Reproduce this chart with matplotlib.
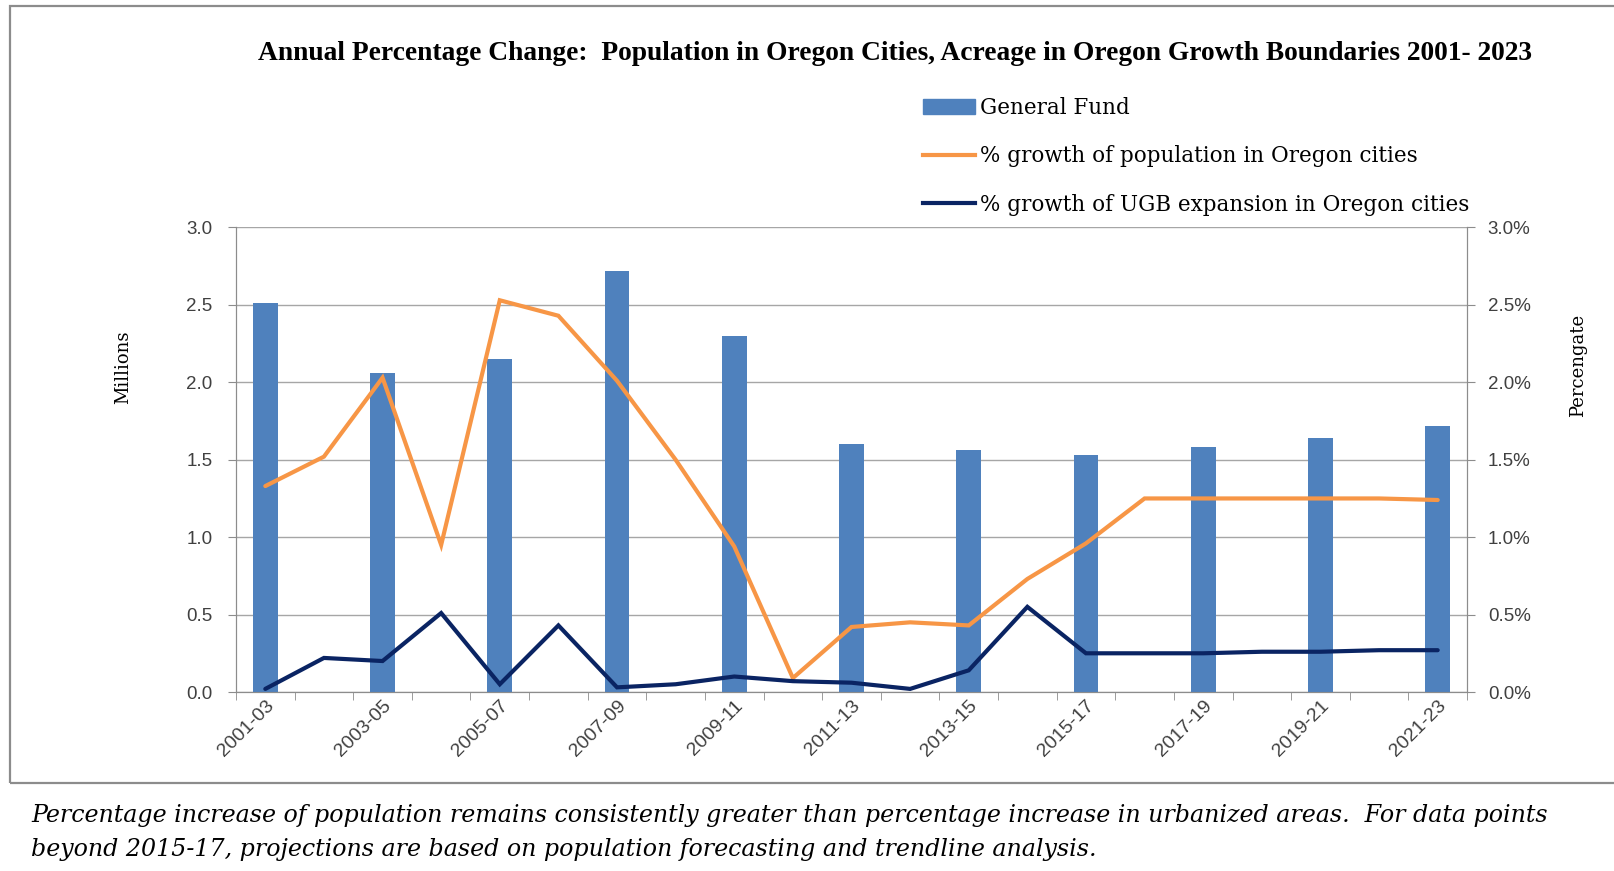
import numpy as np
import matplotlib.pyplot as plt
from matplotlib.patches import Rectangle, Patch
from matplotlib.lines import Line2D

# biennium labels (shown under every other category)
bienniums = ['2001-03', '2003-05', '2005-07', '2007-09', '2009-11', '2011-13',
             '2013-15', '2015-17', '2017-19', '2019-21', '2021-23']

# general fund, millions (one bar per biennium)
general_fund = [2.51, 2.06, 2.15, 2.72, 2.30, 1.60, 1.56, 1.53, 1.58, 1.64, 1.72]

# annual % growth, 21 points
pop_growth = [1.33, 1.52, 2.03, 0.95, 2.53, 2.43, 2.01, 1.50, 0.94, 0.09, 0.42,
              0.45, 0.43, 0.73, 0.96, 1.25, 1.25, 1.25, 1.25, 1.25, 1.24]
ugb_growth = [0.02, 0.22, 0.20, 0.51, 0.05, 0.43, 0.03, 0.05, 0.10, 0.07, 0.06,
              0.02, 0.14, 0.55, 0.25, 0.25, 0.25, 0.26, 0.26, 0.27, 0.27]

W, H = 1614, 871
fig = plt.figure(figsize=(W / 100, H / 100), dpi=100)

# outer frame of the chart object
fig.patches.append(Rectangle((10 / W, 1 - 783 / H), 1.2, 777 / H, transform=fig.transFigure,
                             fill=False, edgecolor='#8c8c8c', lw=1.6))

left, right, top, bottom = 236, 1467, 227.5, 692
ax = fig.add_axes([left / W, 1 - bottom / H, (right - left) / W, (bottom - top) / H])
ax2 = ax.twinx()
ax.set_zorder(1)
ax2.set_zorder(2)
ax2.patch.set_visible(False)

x = np.arange(len(pop_growth))
ax.bar(x[::2], general_fund, width=0.42, color='#4F81BD', zorder=3)
ax2.plot(x, pop_growth, color='#F79646', lw=3, solid_capstyle='round', solid_joinstyle='miter')
ax2.plot(x, ugb_growth, color='#0A2463', lw=3, solid_capstyle='round', solid_joinstyle='miter')

ax.set_xlim(-0.5, len(x) - 0.5)
ax.set_ylim(0, 3)
ax2.set_ylim(0, 3)
yt = np.arange(0, 3.01, 0.5)
ax.set_yticks(yt)
ax.set_yticklabels([f'{v:.1f}' for v in yt])
ax2.set_yticks(yt)
ax2.set_yticklabels([f'{v:.1f}%' for v in yt])
ax.yaxis.grid(True, color='#a6a6a6', lw=1)
ax.set_axisbelow(True)

ax.set_xticks(x[::2])
ax.set_xticklabels(bienniums, rotation=45, ha='right', va='top', rotation_mode='anchor',
                   fontsize=14, color='#404040', family='Liberation Sans')
ax.set_xticks(np.arange(-0.5, len(x)), minor=True)
ax.tick_params(axis='x', which='major', length=0, pad=4)
ax.tick_params(axis='x', which='minor', length=6, color='#8c8c8c')
ax.tick_params(axis='y', length=6, color='#8c8c8c', pad=11, labelsize=13.5, labelcolor='#404040')
ax2.tick_params(axis='y', length=6, color='#8c8c8c', pad=9, labelsize=13.5, labelcolor='#404040')
for lab in ax.get_yticklabels() + ax2.get_yticklabels():
    lab.set_family('Liberation Sans')

for a in (ax, ax2):
    for s in a.spines.values():
        s.set_color('#8c8c8c')
    a.spines['top'].set_visible(False)

fig.text(895 / W, 1 - 54 / H,
         'Annual Percentage Change:  Population in Oregon Cities, Acreage in Oregon Growth Boundaries 2001- 2023',
         ha='center', va='center', fontsize=19.8, fontweight='bold', family='Liberation Serif')
fig.text(123 / W, 1 - 367 / H, 'Millions', rotation=90, ha='center', va='center',
         fontsize=13, family='DejaVu Serif')
fig.text(1578 / W, 1 - 365 / H, 'Percengate', rotation=90, ha='center', va='center',
         fontsize=13, family='DejaVu Serif')

handles = [Patch(color='#4F81BD'),
           Line2D([], [], color='#F79646', lw=3),
           Line2D([], [], color='#0A2463', lw=3)]
labels = ['General Fund', '% growth of population in Oregon cities',
          '% growth of UGB expansion in Oregon cities']
fig.legend(handles, labels, loc='upper left', bbox_to_anchor=(923 / W, 1 - 97 / H),
           frameon=False, borderpad=0, borderaxespad=0, handlelength=2.4, handletextpad=0.25,
           labelspacing=1.23, prop={'family': 'DejaVu Serif', 'size': 15.5})

caption = ('Percentage increase of population remains consistently greater than percentage increase in urbanized areas.  For data points\n'
           'beyond 2015-17, projections are based on population forecasting and trendline analysis.')
fig.text(31 / W, 1 - 804 / H, caption, ha='left', va='top', fontsize=17.1, style='italic',
         family='DejaVu Serif', linespacing=1.6)

fig.savefig('out.png', dpi=100)
